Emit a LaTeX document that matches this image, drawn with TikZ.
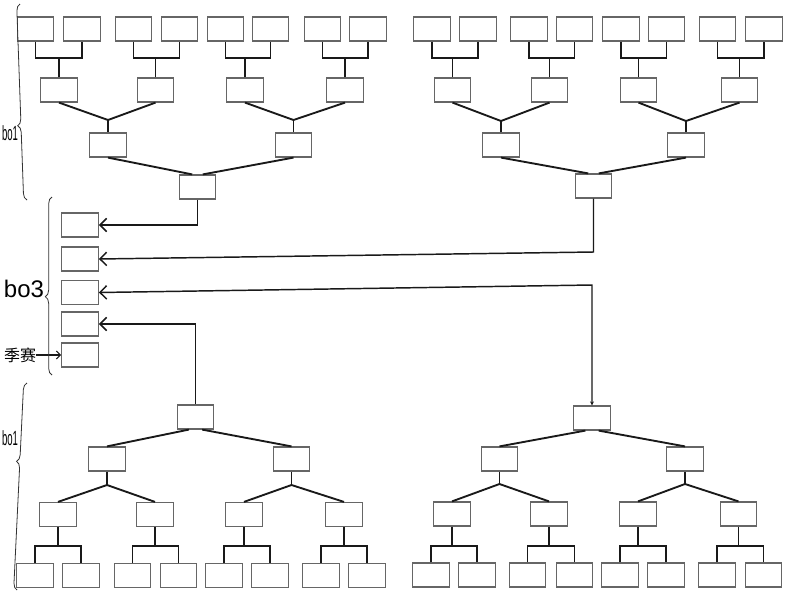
\documentclass[tikz,border=0pt]{standalone}
\usepackage{fontspec}
\usepackage{graphicx}
\setmainfont{Liberation Sans}
\newfontfamily\cjk{Noto Sans CJK SC}
\usetikzlibrary{arrows.meta,decorations.pathreplacing}
\begin{document}
\begin{tikzpicture}[x=0.75pt,y=-0.75pt,
  box/.style={draw=black!60, line width=0.9pt, minimum width=27.5pt, minimum height=18pt, inner sep=0pt},
  conn/.style={line width=1.4pt, black!90},
  arr/.style={line width=1.1pt, black!90, -{Straight Barb[length=5pt,width=10pt]}},
  brc/.style={decorate, decoration={brace, amplitude=5pt, aspect=#1}, line width=0.6pt, black!80},
  lbl/.style={inner sep=0pt, font=\fontsize{11}{11}\selectfont}]
\useasboundingbox (0,0) rectangle (800,600);

% ---------- Tree A (top left) ----------
\foreach \x [count=\i] in {35.5,82,133.5,179.5,225.5,270.5,322.5,368} \node[box] (a\i) at (\x,29) {};
\foreach \x [count=\i] in {59,155.5,245,345} \node[box] (aL\i) at (\x,90) {};
\foreach \x [count=\i] in {108,293.5} \node[box] (aM\i) at (\x,145) {};
\node[box] (aR) at (197.5,187) {};
\foreach \i in {1,...,4} {
  \pgfmathtruncatemacro\l{2*\i-1}\pgfmathtruncatemacro\r{2*\i}
  \draw[conn] (a\l.south) -- (a\l.south |- 0,58) -- (a\r.south |- 0,58) -- (a\r.south);
  \draw[conn] (aL\i.north) -- (aL\i.north |- 0,58);
}
\foreach \i in {1,2} {
  \pgfmathtruncatemacro\l{2*\i-1}\pgfmathtruncatemacro\r{2*\i}
  \draw[conn] (aL\l.south) -- (aM\i.north |- 0,120) -- (aL\r.south);
  \draw[conn] (aM\i.north |- 0,120) -- (aM\i.north);
}
\draw[conn] (aM1.south) -- ([xshift=-4pt]aR.north);
\draw[conn] (aM2.south) -- ([xshift=4pt]aR.north);

% ---------- Tree B (top right) ----------
\foreach \x [count=\i] in {432,478,529,574.5,621,666.5,717.5,764} \node[box] (b\i) at (\x,29) {};
\foreach \x [count=\i] in {452.5,549.5,638.5,739.5} \node[box] (bL\i) at (\x,90) {};
\foreach \x [count=\i] in {501,686} \node[box] (bM\i) at (\x,145) {};
\node[box] (bR) at (593.5,186) {};
\foreach \i in {1,...,4} {
  \pgfmathtruncatemacro\l{2*\i-1}\pgfmathtruncatemacro\r{2*\i}
  \draw[conn] (b\l.south) -- (b\l.south |- 0,58) -- (b\r.south |- 0,58) -- (b\r.south);
  \draw[conn] (bL\i.north) -- (bL\i.north |- 0,58);
}
\foreach \i in {1,2} {
  \pgfmathtruncatemacro\l{2*\i-1}\pgfmathtruncatemacro\r{2*\i}
  \draw[conn] (bL\l.south) -- (bM\i.north |- 0,121) -- (bL\r.south);
  \draw[conn] (bM\i.north |- 0,121) -- (bM\i.north);
}
\draw[conn] (bM1.south) -- ([xshift=-4pt]bR.north);
\draw[conn] (bM2.south) -- ([xshift=4pt]bR.north);

% ---------- Tree C (bottom left) ----------
\node[box] (cR) at (195.5,417) {};
\foreach \x [count=\i] in {107,291.5} \node[box] (cL\i) at (\x,459) {};
\foreach \x [count=\i] in {58,155,244,344} \node[box] (cM\i) at (\x,514.5) {};
\foreach \x [count=\i] in {35,81,132.5,178.5,224,270,321,367} \node[box] (c\i) at (\x,575.5) {};
\draw[conn] ([xshift=-5pt]cR.south) -- (cL1.north);
\draw[conn] ([xshift=5pt]cR.south) -- (cL2.north);
\foreach \i in {1,2} {
  \pgfmathtruncatemacro\l{2*\i-1}\pgfmathtruncatemacro\r{2*\i}
  \draw[conn] (cL\i.south) -- (cL\i.south |- 0,485);
  \draw[conn] (cM\l.north) -- (cL\i.south |- 0,485) -- (cM\r.north);
}
\foreach \i in {1,...,4} {
  \pgfmathtruncatemacro\l{2*\i-1}\pgfmathtruncatemacro\r{2*\i}
  \draw[conn] (cM\i.south) -- (cM\i.south |- 0,546);
  \draw[conn] (c\l.north) -- (c\l.north |- 0,546) -- (c\r.north |- 0,546) -- (c\r.north);
}

% ---------- Tree D (bottom right) ----------
\node[box] (dR) at (592,418) {};
\foreach \x [count=\i] in {499.5,685} \node[box] (dL\i) at (\x,459) {};
\foreach \x [count=\i] in {452,549,638,738.5} \node[box] (dM\i) at (\x,514) {};
\foreach \x [count=\i] in {431,477,527.5,574.5,620,666,717,763.5} \node[box] (d\i) at (\x,575) {};
\draw[conn] ([xshift=-5pt]dR.south) -- (dL1.north);
\draw[conn] ([xshift=5pt]dR.south) -- (dL2.north);
\foreach \i in {1,2} {
  \pgfmathtruncatemacro\l{2*\i-1}\pgfmathtruncatemacro\r{2*\i}
  \draw[conn] (dL\i.south) -- (dL\i.south |- 0,484);
  \draw[conn] (dM\l.north) -- (dL\i.south |- 0,484) -- (dM\r.north);
}
\foreach \i in {1,...,4} {
  \pgfmathtruncatemacro\l{2*\i-1}\pgfmathtruncatemacro\r{2*\i}
  \draw[conn] (dM\i.south) -- (dM\i.south |- 0,546);
  \draw[conn] (d\l.north) -- (d\l.north |- 0,546) -- (d\r.north |- 0,546) -- (d\r.north);
}

% ---------- Middle column ----------
\foreach \y [count=\i] in {225,259,292.5,324,355} \node[box] (m\i) at (80,\y) {};

\draw[arr] (aR.south) |- (m1.east);
\draw[arr] (bR.south) -- (bR.south |- 0,252) -- (m2.east);
\draw[line width=1.1pt, black!90, {Stealth[length=3pt,width=3pt]}-{Straight Barb[length=5pt,width=10pt]}]
  (dR.north) -- (dR.north |- 0,285) -- (m3.east);
\draw[arr] (cR.north) |- (m4.east);

% ---------- Labels and braces ----------
\node[inner sep=0pt, font=\cjk\fontsize{12}{12}\selectfont] (jl) at (20,355) {季赛};
\draw[line width=0.8pt, black!90, -{Straight Barb[length=3pt,width=6pt]}] (jl.east) -- (m5.west);

\draw[brc=0.38] (27,200) -- (20,4);
\node[lbl] (t1) at (10,133) {\scalebox{0.65}[1.4]{bo1}};
\draw[brc=0.44] (52,375) -- (52,197);
\node[inner sep=0pt, font=\fontsize{18}{18}\selectfont] (t3) at (24,289) {bo3};
\draw[brc=0.62] (17,590) -- (27,383);
\node[lbl] (t2) at (10,438) {\scalebox{0.65}[1.4]{bo1}};
\end{tikzpicture}
\end{document}
